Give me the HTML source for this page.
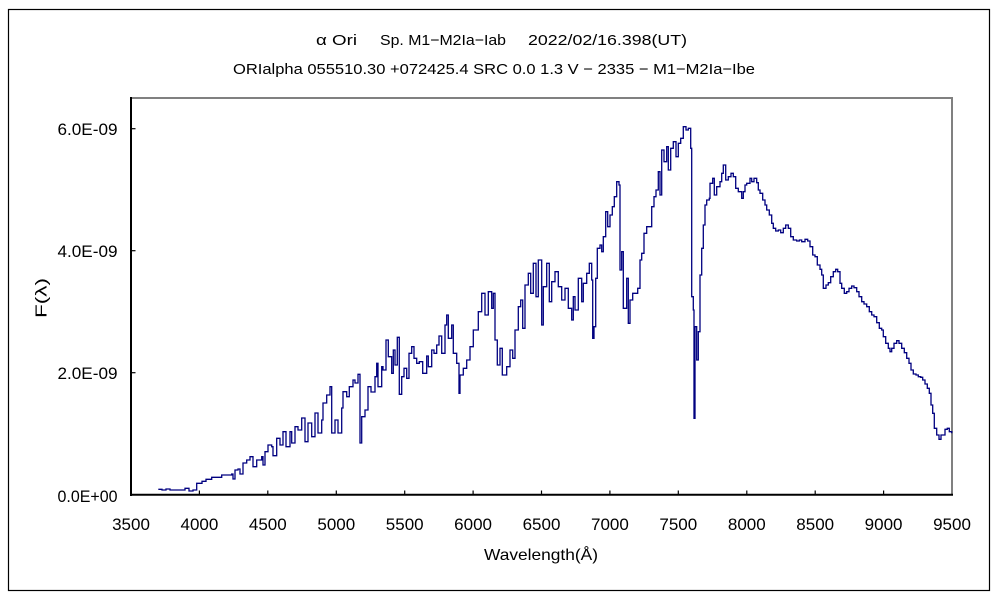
<!DOCTYPE html>
<html>
<head>
<meta charset="utf-8">
<style>
html,body{margin:0;padding:0;background:#fff;}
svg{display:block;}
text{font-family:"Liberation Sans","Noto Sans CJK JP",sans-serif;fill:#000;}
</style>
</head>
<body>
<svg width="1000" height="600" viewBox="0 0 1000 600" xmlns="http://www.w3.org/2000/svg">
<rect x="0" y="0" width="1000" height="600" fill="#fff"/>
<rect x="8.5" y="9.5" width="981" height="581" fill="none" stroke="#000" stroke-width="1.2"/>

<!-- titles -->
<text x="316" y="45" font-size="15" textLength="41" lengthAdjust="spacingAndGlyphs">α Ori</text>
<text x="380" y="45" font-size="15" textLength="126" lengthAdjust="spacingAndGlyphs">Sp. M1−M2Ia−Iab</text>
<text x="528" y="45" font-size="15" textLength="159" lengthAdjust="spacingAndGlyphs">2022/02/16.398(UT)</text>
<text x="233" y="74" font-size="15" textLength="522" lengthAdjust="spacingAndGlyphs">ORIalpha 055510.30 +072425.4 SRC 0.0 1.3 V − 2335 − M1−M2Ia−Ibe</text>

<!-- plot border -->
<line x1="131" y1="98" x2="953" y2="98" stroke="#808080" stroke-width="2"/>
<line x1="952" y1="97" x2="952" y2="495" stroke="#808080" stroke-width="2"/>
<line x1="131" y1="97" x2="131" y2="496" stroke="#000" stroke-width="2"/>
<line x1="130" y1="494.8" x2="953" y2="494.8" stroke="#000" stroke-width="2"/>

<!-- x ticks -->
<g stroke="#000" stroke-width="1.2">
<line x1="199.4" y1="495" x2="199.4" y2="490.5"/>
<line x1="267.8" y1="495" x2="267.8" y2="490.5"/>
<line x1="336.3" y1="495" x2="336.3" y2="490.5"/>
<line x1="404.7" y1="495" x2="404.7" y2="490.5"/>
<line x1="473.1" y1="495" x2="473.1" y2="490.5"/>
<line x1="541.5" y1="495" x2="541.5" y2="490.5"/>
<line x1="609.9" y1="495" x2="609.9" y2="490.5"/>
<line x1="678.3" y1="495" x2="678.3" y2="490.5"/>
<line x1="746.8" y1="495" x2="746.8" y2="490.5"/>
<line x1="815.2" y1="495" x2="815.2" y2="490.5"/>
<line x1="883.6" y1="495" x2="883.6" y2="490.5"/>
<!-- y ticks -->
<line x1="131" y1="128.7" x2="135.5" y2="128.7"/>
<line x1="131" y1="250.7" x2="135.5" y2="250.7"/>
<line x1="131" y1="372.7" x2="135.5" y2="372.7"/>
</g>

<!-- y labels -->
<g font-size="17" text-anchor="end">
<text x="117.5" y="134.8" textLength="60" lengthAdjust="spacingAndGlyphs">6.0E-09</text>
<text x="117.5" y="256.8" textLength="60" lengthAdjust="spacingAndGlyphs">4.0E-09</text>
<text x="117.5" y="378.8" textLength="60" lengthAdjust="spacingAndGlyphs">2.0E-09</text>
<text x="117.5" y="502" textLength="60" lengthAdjust="spacingAndGlyphs">0.0E+00</text>
</g>

<!-- x labels -->
<g font-size="17" text-anchor="middle">
<text x="131" y="530">3500</text>
<text x="199.4" y="530">4000</text>
<text x="267.8" y="530">4500</text>
<text x="336.3" y="530">5000</text>
<text x="404.7" y="530">5500</text>
<text x="473.1" y="530">6000</text>
<text x="541.5" y="530">6500</text>
<text x="609.9" y="530">7000</text>
<text x="678.3" y="530">7500</text>
<text x="746.8" y="530">8000</text>
<text x="815.2" y="530">8500</text>
<text x="883.6" y="530">9000</text>
<text x="952" y="530">9500</text>
</g>

<text x="484" y="560" font-size="16" textLength="114" lengthAdjust="spacingAndGlyphs">Wavelength(Å)</text>
<text transform="translate(46.5,298) rotate(-90)" font-size="16" text-anchor="middle" textLength="40" lengthAdjust="spacingAndGlyphs">F(λ)</text>

<!-- spectrum -->
<path fill="none" stroke="#000080" stroke-width="1.3" stroke-linejoin="miter" d="M158.3 489.3 H162 V490 H166 V489 H170 V490 H185 V488.3 H189 V491 H193 V490 H196.7 V483.3 H202 V481.3 H206 V479.3 H211.7 V477.3 H221.7 V475 H231.7 V474 H233 V479 H235 V470 H238 V469 H240 V474 H243 V463 H246.7 V460 H250 V456.7 H253 V466.7 H256.7 V460 H261.7 V456.7 H263 V465 H265 V451.7 H268 V445 H271.7 V446.7 H273 V455.7 H276.7 V438.3 H280 V445 H283 V431.7 H286 V446.7 H290 V431.7 H291.7 V443 H295 V426.7 H298 V430 H301.7 V418 H305 V441.7 H308 V423 H311.7 V436.7 H315 V413 H318 V433 H321.7 V420 H323 V403 H326.7 V395 H330 V386.7 H331.7 V433 H335 V420 H338 V433 H341.7 V408 H343 V391.7 H346.7 V396.7 H349.3 V386.7 H353 V380 H355 V383 H358 V374.3 H360 V443 H361.7 V416.7 H365 V410 H368 V386.7 H371 V392 H375 V376.7 H376.7 V363.3 H378 V386.7 H381.7 V366.7 H383 V370 H386 V340 H388.3 V356.7 H391.7 V373.3 H393.3 V350 H395 V365 H397.3 V337.3 H399.3 V394.3 H401.7 V376.7 H404 V368.3 H406.7 V378.3 H409 V353.3 H411.7 V346.7 H414 V358.3 H416.7 V363.3 H419.3 V361.7 H422.7 V373.3 H426.7 V356 H428.3 V366.7 H431.7 V350 H434 V353.3 H436.7 V345 H439 V336 H441.7 V353.3 H445 V325 H446.7 V315 H448.3 V338.3 H451.7 V325 H453.3 V353.3 H456.7 V363.3 H459 V393.3 H460 V375 H463.3 V368.3 H466.7 V360 H470 V346.7 H473.3 V330 H478.3 V311.7 H481.7 V293.3 H485 V315 H488.3 V291.7 H491.7 V308.3 H493.3 V293.3 H495 V340 H497.3 V365 H500 V348.3 H502.3 V375 H506.7 V366.7 H510 V350 H512.7 V358.3 H515 V330 H518.3 V306.7 H520.7 V300 H522.7 V328.3 H525 V285 H528.3 V273.3 H530.7 V293.3 H533.3 V263.3 H536 V296.7 H538.3 V260 H541.7 V325 H543.3 V286.7 H546.7 V263.3 H549.3 V301.7 H551.7 V281.7 H555 V271.7 H558.3 V286.7 H561.7 V300 H565 V288.3 H568.3 V308.3 H571.7 V320 H573.3 V296.7 H575 V310 H578.3 V278.3 H581.7 V301.7 H583.3 V283.3 H586.7 V273.3 H589.3 V263.3 H591.7 V280 H592.7 V338.3 H594 V326.7 H595.7 V278.3 H597.3 V248.3 H600 V245 H601.7 V251.7 H603.3 V236.7 H605.7 V211.7 H607.7 V226.7 H610 V215 H612.3 V206.7 H614.3 V196.7 H616.7 V181.7 H619 V185 H620 V270 H621.7 V251.7 H623.3 V308.3 H626.7 V278.3 H628.3 V323.3 H630 V300 H632.7 V293.3 H637.7 V288.3 H640 V260 H641.7 V253.3 H644 V233.3 H646.7 V226.7 H651.7 V206.7 H654 V196.7 H656 V190 H658.3 V171.7 H660 V195 H661.7 V150 H664 V161.7 H666.7 V146.7 H668.3 V170 H670.7 V148.3 H673.3 V141.7 H676 V156.7 H678.3 V143.3 H680.7 V138.3 H683.3 V126.7 H686 V130 H688.3 V128.3 H690.7 V148.3 H691.7 V296.7 H693.3 V310 H694 V418.3 H695 V326.7 H696.7 V360 H698.3 V331.7 H700 V275 H701.7 V248.3 H703.3 V225 H705 V205 H706.7 V200 H709.3 V198.3 H710 V183.3 H712.7 V178.3 H714.3 V195 H716.7 V186.7 H720 V181.7 H721.7 V173.3 H723.3 V165 H725.7 V180 H728.3 V176.7 H731 V173.3 H733.3 V176.7 H735.7 V188.3 H738.3 V191.7 H741.7 V198.3 H743.3 V191.7 H745 V185 H746.7 V183.3 H750 V178.3 H751.7 V181.7 H754 V178.3 H756.7 V182.7 H758.3 V190 H760 V193.3 H762.7 V200 H765 V205 H766.7 V210 H769.3 V215 H771.7 V223.3 H773.3 V228.3 H775.7 V231 H778.3 V230 H780.7 V232.7 H783.3 V228.3 H785.7 V225 H788.3 V228.3 H790.7 V236.7 H793.3 V240 H796.7 V241 H799.3 V240 H801.7 V241.7 H805 V239.3 H807.7 V241 H810 V246.7 H812.7 V255 H815 V256.7 H817.3 V265 H820 V269.3 H821.7 V275 H823.3 V288.3 H826 V285 H828.3 V282.7 H830.7 V276.7 H833.3 V271.7 H835.7 V269.3 H837.7 V271.7 H840 V283.3 H841.7 V288.3 H844.3 V293.3 H846.7 V291.7 H849 V288.3 H851.7 V286 H854 V287.7 H856.7 V291.7 H859 V296.7 H861.7 V301.7 H864 V304 H866.7 V306.7 H869.3 V311.7 H871.7 V315 H874 V316.7 H876.7 V322.7 H879.3 V328.3 H881.7 V330 H883.3 V336.7 H885.7 V343.3 H888.3 V348.3 H890 V351.7 H891.7 V348.3 H894 V343.3 H896.7 V340.7 H899 V343.3 H901.7 V348.3 H904.3 V352.7 H906.7 V358.3 H909 V363.3 H911 V370 H913.3 V374 H916 V375 H918.3 V376.7 H920.7 V377.3 H922.7 V380 H925 V384 H927.3 V388.3 H929.3 V393.3 H931 V405 H932.7 V413.3 H934.3 V428.3 H936.7 V435 H939 V439.3 H941 V435 H945 V429.3 H947.3 V428.3 H949.3 V431.7 H951.7 V433.3"/>
</svg>
</body>
</html>
